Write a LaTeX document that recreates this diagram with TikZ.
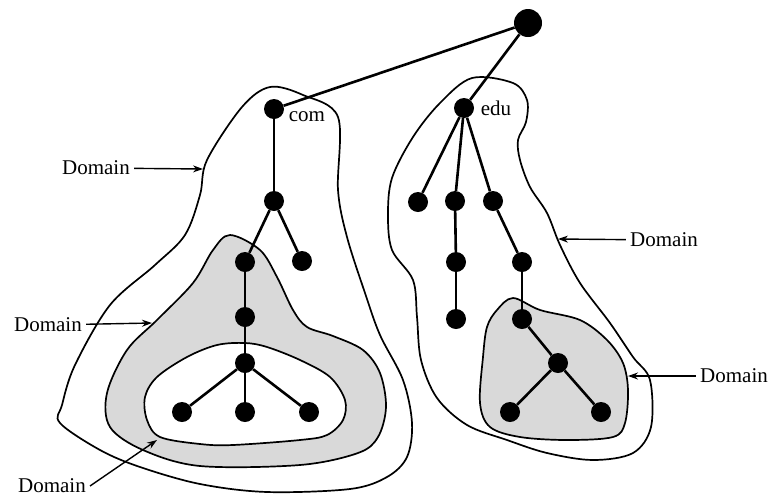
\documentclass[tikz,border=0pt]{standalone}
\usepackage{fontspec}
\setmainfont{Liberation Serif}
\usetikzlibrary{arrows.meta}
\begin{document}
\begin{tikzpicture}[x=1pt, y=-1pt, >={Stealth[length=10pt,width=7pt]},
    font=\fontsize{21}{24}\selectfont,
    dot/.style={circle, fill=black, inner sep=0pt, minimum size=20pt},
    bigdot/.style={dot, minimum size=28pt},
    edge/.style={line width=2.6pt},
    domline/.style={line width=1.7pt},
    shade/.style={domline, fill=black!15},
    lbl/.style={inner sep=4pt},
    ptr/.style={->, line width=1.4pt}]
  \useasboundingbox (0,0) rectangle (774,499);
  \draw[domline] plot[smooth cycle, tension=0.55] coordinates {(270,87) (303,95) (338,117) (338,190) (347,237) (365,293) (380,335) (403,380) (412,423) (407,457) (387,477) (350,489) (267,492) (200,484) (140,467) (100,450) (60,423) (62,405) (75,365) (110,305) (155,265) (185,235) (200,195) (207,160) (242,107)};
  \draw[shade] plot[smooth cycle, tension=0.55] coordinates {(230,235) (260,250) (277,277) (293,310) (307,327) (333,336) (363,350) (380,373) (386,407) (378,437) (358,453) (300,465) (200,466) (143,450) (110,427) (107,393) (127,350) (157,320) (193,283) (213,250)};
  \draw[domline, fill=white] plot[smooth cycle, tension=0.55] coordinates {(245,343) (267,347) (300,360) (330,377) (345,400) (343,420) (327,435) (300,440) (233,445) (200,444) (160,437) (147,420) (145,397) (157,377) (187,357) (217,345)};
  \draw[domline] plot[smooth cycle, tension=0.55] coordinates {(472,78) (513,83) (527,100) (526,122) (518,140) (520,160) (530,187) (547,213) (560,245) (580,283) (610,323) (633,357) (650,380) (651,427) (633,453) (593,460) (547,453) (507,440) (467,425) (437,398) (421,360) (417,317) (413,280) (392,250) (388,215) (392,178) (413,137) (440,103)};
  \draw[shade] plot[smooth cycle, tension=0.55] coordinates {(513,298) (540,310) (580,320) (607,340) (623,363) (628,390) (625,423) (613,437) (567,440) (520,437) (490,427) (480,403) (483,357) (487,327) (497,310)};
  \node[bigdot] (root) at (528,23) {};
  \node[dot] (com) at (274,109) {};
  \node[dot] (c1) at (274,201) {};
  \node[dot] (c2) at (245,262) {};
  \node[dot] (c3) at (302,261) {};
  \node[dot] (c4) at (245,317) {};
  \node[dot] (c5) at (245,363) {};
  \node[dot] (c6) at (182,412) {};
  \node[dot] (c7) at (245,412) {};
  \node[dot] (c8) at (309,412) {};
  \node[dot] (edu) at (464,108) {};
  \node[dot] (e1) at (418,202) {};
  \node[dot] (e2) at (455,201) {};
  \node[dot] (e3) at (493,201) {};
  \node[dot] (e4) at (456,262) {};
  \node[dot] (e5) at (522,262) {};
  \node[dot] (e6) at (456,319) {};
  \node[dot] (e7) at (522,319) {};
  \node[dot] (e8) at (558,363) {};
  \node[dot] (e9) at (510,412) {};
  \node[dot] (e10) at (601,412) {};
  \draw[edge] (root) -- (com);
  \draw[edge] (root) -- (edu);
  \draw[edge] (com) -- (c1);
  \draw[edge] (c1) -- (c2);
  \draw[edge] (c1) -- (c3);
  \draw[edge] (c2) -- (c4);
  \draw[edge] (c4) -- (c5);
  \draw[edge] (c5) -- (c6);
  \draw[edge] (c5) -- (c7);
  \draw[edge] (c5) -- (c8);
  \draw[edge] (edu) -- (e1);
  \draw[edge] (edu) -- (e2);
  \draw[edge] (edu) -- (e3);
  \draw[edge] (e2) -- (e4);
  \draw[edge] (e4) -- (e6);
  \draw[edge] (e3) -- (e5);
  \draw[edge] (e5) -- (e7);
  \draw[edge] (e7) -- (e8);
  \draw[edge] (e8) -- (e9);
  \draw[edge] (e8) -- (e10);
  \node[inner sep=0pt] (comlbl) at (307,117) {com};
  \node[inner sep=0pt] (edulbl) at (496,108) {edu};
  \node[lbl] (d1) at (96,168) {Domain};
  \node[lbl] (d2) at (48,325) {Domain};
  \node[lbl] (d3) at (52,486) {Domain};
  \node[lbl] (d4) at (664,240) {Domain};
  \node[lbl] (d5) at (734,376) {Domain};
  \coordinate (a1) at (203,169);
  \coordinate (a2) at (152,323);
  \coordinate (a3) at (157,440);
  \coordinate (a4) at (558,239);
  \coordinate (a5) at (628,376);
  \draw[ptr] (d1) -- (a1);
  \draw[ptr] (d2) -- (a2);
  \draw[ptr] (d3.east) -- (a3);
  \draw[ptr] (d4) -- (a4);
  \draw[ptr] (d5) -- (a5);
\end{tikzpicture}
\end{document}
